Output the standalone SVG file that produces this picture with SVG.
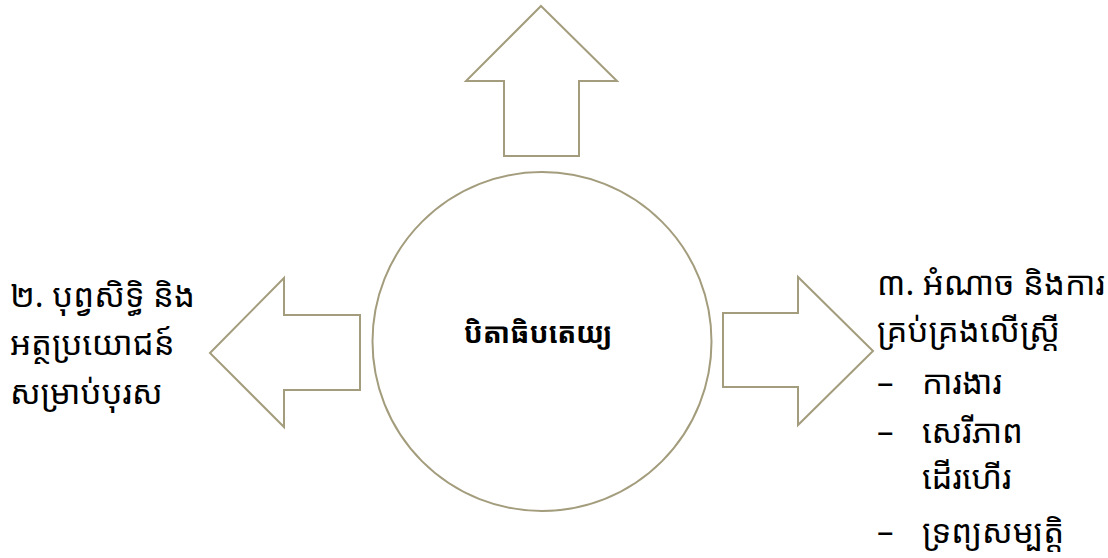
<svg xmlns="http://www.w3.org/2000/svg" width="1108" height="558" viewBox="0 0 1108 558">
<style>
.shape{fill:#ffffff;stroke:#a39d7d;stroke-width:2;stroke-linejoin:miter}
.t{font-family:"Noto Sans Khmer","Khmer OS System","Khmer OS","Noto Sans",sans-serif;font-size:33px;fill:#000}
.b{font-weight:bold;text-anchor:middle;font-size:28px}
</style>
<rect width="1108" height="558" fill="#ffffff"/>
<g id="connectors">
<polygon id="arrow-up" class="shape" points="541,6 617,81 579,81 579,156 504,156 504,81 466,81"/>
<polygon id="arrow-left" class="shape" points="210,353 284,278 284,315 360,315 360,390 284,390 284,427"/>
<polygon id="arrow-right" class="shape" points="873,351 798,277 798,313 723,313 723,387 798,387 798,425"/>
</g>
<g id="node-center">
<circle class="shape" cx="542" cy="341.5" r="169.5"/>
<text class="t b" x="538" y="343">បិតាធិបតេយ្យ</text>
</g>
<g id="node-left">
<text class="t" x="10" y="307">២. បុព្វសិទ្ធិ និង</text>
<text class="t" x="10" y="355">អត្ថប្រយោជន៍</text>
<text class="t" x="10" y="404">សម្រាប់បុរស</text>
</g>
<g id="node-right">
<text class="t" x="877" y="295">៣. អំណាច និងការ</text>
<text class="t" x="877" y="342">គ្រប់គ្រងលើស្ត្រី</text>
<text class="t" x="877" y="394">–</text><text class="t" x="922" y="394">ការងារ</text>
<text class="t" x="877" y="443">–</text><text class="t" x="922" y="443">សេរីភាព</text>
<text class="t" x="922" y="489">ដើរហើរ</text>
<text class="t" x="877" y="543">–</text><text class="t" x="922" y="543">ទ្រព្យសម្បត្តិ</text>
</g>
</svg>
